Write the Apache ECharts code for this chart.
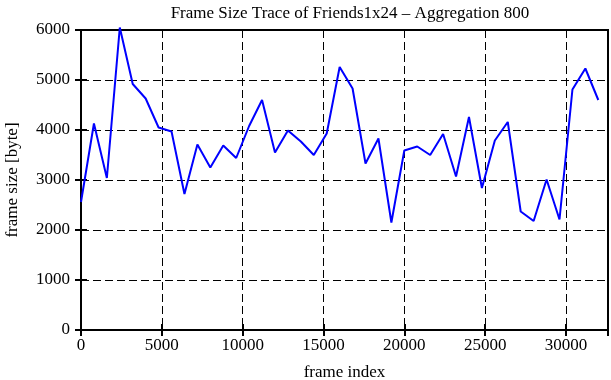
<!DOCTYPE html>
<html>
<head>
<meta charset="utf-8">
<script src="https://cdn.jsdelivr.net/npm/echarts@6/dist/echarts.min.js"></script>
<style>html,body{margin:0;padding:0;background:#fff;}#c{width:611px;height:380px;}</style>
</head>
<body>
<div id="c"></div>
<script>
var titleText = 'Frame Size Trace of Friends1x24 \u2013 Aggregation 800';
var xName = 'frame index';
var yName = 'frame size [byte]';
var frameIndex = [0,800,1600,2400,3200,4000,4800,5600,6400,7200,8000,8800,9600,10400,11200,12000,12800,13600,14400,15200,16000,16800,17600,18400,19200,20000,20800,21600,22400,23200,24000,24800,25600,26400,27200,28000,28800,29600,30400,31200,32000];
var frameSize = [2560,4130,3040,6050,4920,4630,4050,3970,2720,3710,3250,3690,3440,4080,4600,3550,3990,3770,3500,3930,5260,4830,3330,3830,2150,3590,3670,3500,3920,3070,4260,2840,3790,4160,2370,2180,3010,2210,4810,5230,4600];

var font = 'Liberation Serif';
var dash = {type:[8,4], color:'#000', width:1};
var tick = {show:true,inside:true,length:6,lineStyle:{color:'#000',width:2}};
var fmt = function(v){return String(v);};
var data = frameIndex.map(function(x,i){return [x, frameSize[i]];});
var chart = echarts.init(document.getElementById('c'));
chart.setOption({
  animation:false,
  backgroundColor:'#fff',
  title:{text:titleText,left:345,textAlign:'center',top:0,textStyle:{fontFamily:font,fontSize:17,fontWeight:'normal',color:'#000'}},
  grid:{left:81,right:3,top:30,bottom:50,outerBoundsMode:'none',containLabel:false,show:true,borderColor:'#000',borderWidth:2,backgroundColor:'transparent'},
  xAxis:[{type:'value',min:0,max:32600,interval:5000,
    name:xName,nameLocation:'middle',nameGap:34,
    nameTextStyle:{fontFamily:font,fontSize:17,color:'#000'},
    axisLine:{show:false},axisTick:tick,
    axisLabel:{fontFamily:font,fontSize:17,color:'#000',margin:7,showMaxLabel:false,formatter:fmt},
    splitLine:{show:true,lineStyle:dash}},
   {type:'value',position:'top',min:0,max:32600,interval:5000,axisLine:{show:false},
    axisTick:tick,axisLabel:{show:false},splitLine:{show:false}}],
  yAxis:[{type:'value',min:0,max:6000,interval:1000,
    name:yName,nameLocation:'middle',nameGap:60,
    nameTextStyle:{fontFamily:font,fontSize:17,color:'#000'},
    axisLine:{show:false},axisTick:tick,
    axisLabel:{fontFamily:font,fontSize:17,color:'#000',margin:11,formatter:fmt},
    splitLine:{show:true,lineStyle:dash}},
   {type:'value',position:'right',min:0,max:6000,interval:1000,axisLine:{show:false},
    axisTick:tick,axisLabel:{show:false},splitLine:{show:false}}],
  series:[{type:'line',data:data,showSymbol:false,symbol:'none',lineStyle:{color:'#0000ff',width:2},clip:false}]
});
</script>
</body>
</html>
